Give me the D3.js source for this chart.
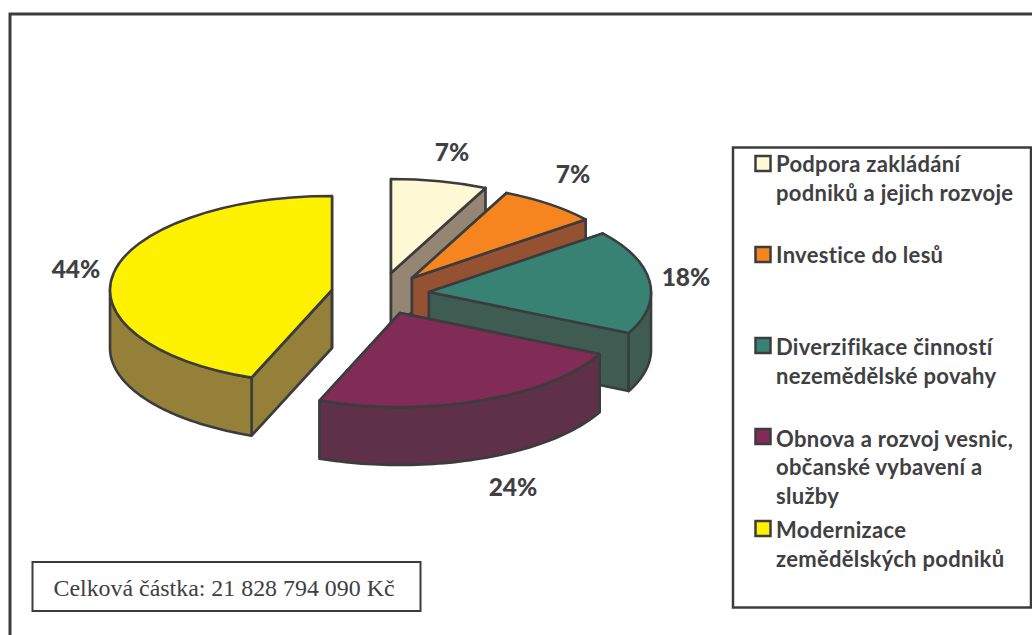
<!DOCTYPE html>
<html>
<head>
<meta charset="utf-8">
<script src="https://cdn.jsdelivr.net/npm/d3@7/dist/d3.min.js"></script>
<style>html,body{margin:0;padding:0;background:#fff;overflow:hidden}svg{display:block}</style>
</head>
<body>
<svg id="c" width="1032" height="635"></svg>
<script>
// ---- data ----
const categories = ["Podpora zakládání podniků a jejich rozvoje","Investice do lesů","Diverzifikace činností nezemědělské povahy","Obnova a rozvoj vesnic, občanské vybavení a služby","Modernizace zemědělských podniků"];
const values = [7, 7.3, 17.9, 23.7, 44.1];
const legendLines = [["Podpora zakládání","podniků a jejich rozvoje"],["Investice do lesů"],["Diverzifikace činností","nezemědělské povahy"],["Obnova a rozvoj vesnic,","občanské vybavení a","služby"],["Modernizace","zemědělských podniků"]];
const topColors = ["#fff9d6","#f6851f","#388274","#812b57","#fff200"];
const wallColors = ["#948672","#945233","#3e5c52","#5e3148","#958039"];
const note = "Celková částka: 21 828 794 090 Kč";

// ---- layout ----
const ink = "#3c3c3f", text = "#404042";
const rx = 222, ry = 94, depth = 58;
const apexes = [[391,273],[412,278],[429,292],[400,313],[332,290]];
const labelPos = [[452,161],[573,183],[686,286],[513,496],[76,278]];
const legendSwatchY = [156,247,338,429,521];
const legendBaseY = [[172,201],[263],[355,384],[447,475,504],[538,567]];

const svg = d3.select("#c");
const frame = svg.append("g").attr("fill","none").attr("stroke",ink).attr("stroke-width",3);
frame.append("path").attr("d",d3.line()([[10,640],[10,14],[1040,14]]));

const pie = d3.pie().value(d=>d).sort(null);
const slices = pie(values);
const x = d3.scaleLinear().domain([-1,1]).range([-rx,rx]);
const y = d3.scaleLinear().domain([-1,1]).range([-ry,ry]);
const arc = d3.arc().innerRadius(0).outerRadius(rx);
const pt = (a,dy=0)=>[x(Math.sin(a)), y(-Math.cos(a))+dy];
const line = d3.line();

const chart = svg.append("g").attr("stroke",ink).attr("stroke-width",2.6).attr("stroke-linejoin","round");
slices.forEach((s,i)=>{
  const g = chart.append("g").attr("transform",`translate(${apexes[i]})`);
  // cut faces
  [s.startAngle,s.endAngle].forEach(a=>{
    g.append("path").attr("fill",wallColors[i])
      .attr("d",line([[0,0],pt(a),pt(a,depth),[0,depth]])+"Z");
  });
  // outer wall, front half only
  const a0 = Math.max(s.startAngle,Math.PI/2), a1 = Math.min(s.endAngle,Math.PI*1.5);
  if(a1>a0){
    const as = d3.range(0,61).map(k=>a0+(a1-a0)*k/60);
    const pts = as.map(a=>pt(a)).concat(as.slice().reverse().map(a=>pt(a,depth)));
    g.append("path").attr("fill",wallColors[i]).attr("d",line(pts)+"Z");
  }
  // top face
  g.append("g").attr("transform",`scale(1,${ry/rx})`)
   .append("path").attr("d",arc(s)).attr("fill",topColors[i]).attr("vector-effect","non-scaling-stroke");
});

// percentage labels
svg.append("g").selectAll("text").data(values).join("text")
  .attr("x",(d,i)=>labelPos[i][0]).attr("y",(d,i)=>labelPos[i][1])
  .attr("text-anchor","middle").attr("font-family","Lato").attr("font-weight",900)
  .attr("font-size",24.5).attr("fill",text).text(d=>d3.format(".0f")(d)+"%");

// legend
svg.append("rect").attr("x",733).attr("y",147.5).attr("width",298).attr("height",460)
  .attr("fill","#fff").attr("stroke",ink).attr("stroke-width",2.5);
const leg = svg.append("g").selectAll("g").data(categories).join("g");
leg.append("rect").attr("x",755.5).attr("y",(d,i)=>legendSwatchY[i]).attr("width",15).attr("height",15)
  .attr("fill",(d,i)=>topColors[i]).attr("stroke",ink).attr("stroke-width",2.5);
leg.each(function(d,i){
  d3.select(this).selectAll("text").data(legendLines[i]).join("text")
    .attr("x",776).attr("y",(l,j)=>legendBaseY[i][j])
    .attr("font-family","Lato").attr("font-weight",700).attr("font-size",22).attr("letter-spacing",0.3).attr("fill",text).text(l=>l);
});

// note
svg.append("rect").attr("x",32.5).attr("y",562).attr("width",388).attr("height",49)
  .attr("fill","#fff").attr("stroke",ink).attr("stroke-width",2);
svg.append("text").attr("x",224).attr("y",596).attr("text-anchor","middle")
  .attr("font-family","Liberation Serif").attr("font-size",23.9).attr("fill",text).text(note);
</script>
</body>
</html>
